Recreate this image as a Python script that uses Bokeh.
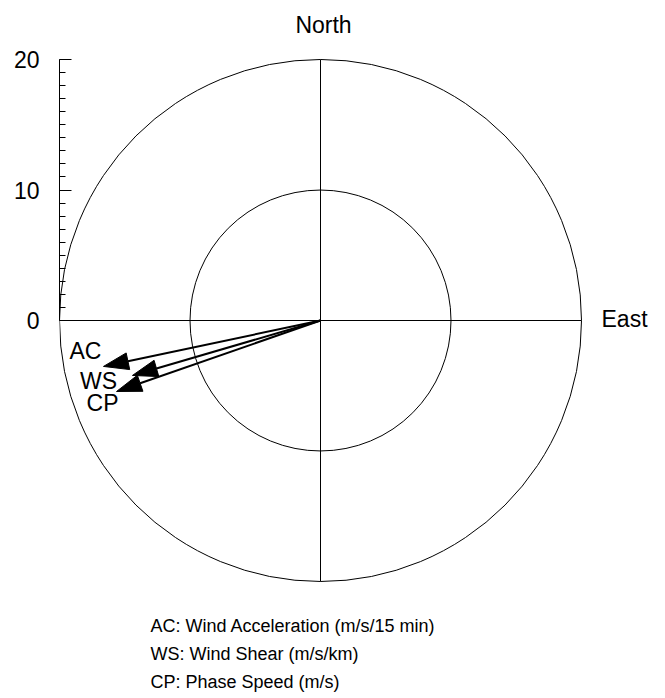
import numpy as np
from bokeh.plotting import figure
from bokeh.models import Range1d, SingleIntervalTicker, ColumnDataSource
from bokeh.core.properties import value
from bokeh.embed import file_html
from bokeh.resources import INLINE

# ---- data ----
vector_names = ["AC", "WS", "CP"]
east_comp = [-16.63, -14.41, -15.63]    # x component
north_comp = [-3.52, -4.21, -5.44]      # y component
ring_radii = [10, 20]
tick_vals = [0, 10, 20]
legend_lines = [
    "AC: Wind Acceleration (m/s/15 min)",
    "WS: Wind Shear (m/s/km)",
    "CP: Phase Speed (m/s)",
]

# ---- layout ----
SCALE = 13.05          # px per unit
W, H = 665, 698
LEFT = 59
CY = 320               # center y in figure px from top
FONT = "Liberation Sans"

x_end = -20 + (W - LEFT) / SCALE
p = figure(width=W, height=H,
           x_range=Range1d(-20, x_end),
           y_range=Range1d(-(H - CY) / SCALE, CY / SCALE),
           output_backend="svg", toolbar_location=None,
           x_axis_type=None, min_border=0, min_border_left=LEFT,
           min_border_right=0, min_border_top=0, min_border_bottom=0)
p.grid.visible = False
p.outline_line_color = None
p.background_fill_color = "white"
p.border_fill_color = "white"

ax = p.yaxis[0]
ax.bounds = (0, 20)
ax.ticker = SingleIntervalTicker(interval=10, num_minor_ticks=10)
ax.major_label_text_font = FONT
ax.major_label_text_font_size = "23px"
ax.major_label_text_color = "black"
ax.axis_line_color = "black"
ax.major_tick_line_color = "black"
ax.minor_tick_line_color = "black"
ax.major_tick_in = 12
ax.major_tick_out = 0
ax.minor_tick_in = 6
ax.minor_tick_out = 0
ax.major_label_standoff = 20

# rings
p.circle(x=[0] * len(ring_radii), y=[0] * len(ring_radii), radius=ring_radii,
         fill_color=None, line_color="black", line_width=1)
# cross lines
R = max(ring_radii)
p.segment(x0=[0, -R], y0=[-R, 0], x1=[0, R], y1=[R, 0],
          line_color="black", line_width=1)

# arrows
ex = np.array(east_comp)
ny = np.array(north_comp)
mag = np.hypot(ex, ny)
ux, uy = ex / mag, ny / mag
head_len = 25 / SCALE
head_w = 17 / SCALE
bx, by = ex - head_len * ux, ny - head_len * uy
nx, nyy = -uy, ux
p.segment(x0=[0] * len(ex), y0=[0] * len(ex), x1=bx, y1=by,
          line_color="black", line_width=2)
xs = [[ex[i], bx[i] + head_w / 2 * nx[i], bx[i] - head_w / 2 * nx[i]] for i in range(len(ex))]
ys = [[ny[i], by[i] + head_w / 2 * nyy[i], by[i] - head_w / 2 * nyy[i]] for i in range(len(ex))]
p.patches(xs=xs, ys=ys, fill_color="black", line_color="black", line_width=1)

# arrow labels (pixel offsets from tips)
lab = ColumnDataSource(dict(x=ex, y=ny, t=vector_names,
                            dx=[-18, -34, -14], dy=[-15, 6, 12]))
p.text(x="x", y="y", text="t", x_offset="dx", y_offset="dy", source=lab,
       text_align="center", text_baseline="middle",
       text_font=value(FONT), text_font_size="23px", text_color="black")

# compass labels
p.text(x=[0], y=[R], text=["North"], x_offset=3, y_offset=-35,
       text_align="center", text_baseline="middle",
       text_font=value(FONT), text_font_size="23px", text_color="black")
p.text(x=[R], y=[0], text=["East"], x_offset=20, y_offset=-2,
       text_align="left", text_baseline="middle",
       text_font=value(FONT), text_font_size="23px", text_color="black")

# legend lines (bottom text block)
def px_to_y(py):
    return (CY - py) / SCALE

def px_to_x(px):
    return -20 + (px - LEFT) / SCALE

centers = [625, 653, 681]
p.text(x=[px_to_x(150)] * 3, y=[px_to_y(c) for c in centers], text=legend_lines,
       text_align="left", text_baseline="middle",
       text_font=value(FONT), text_font_size="18px", text_color="black")

open("out.html", "w").write(file_html(p, INLINE))
